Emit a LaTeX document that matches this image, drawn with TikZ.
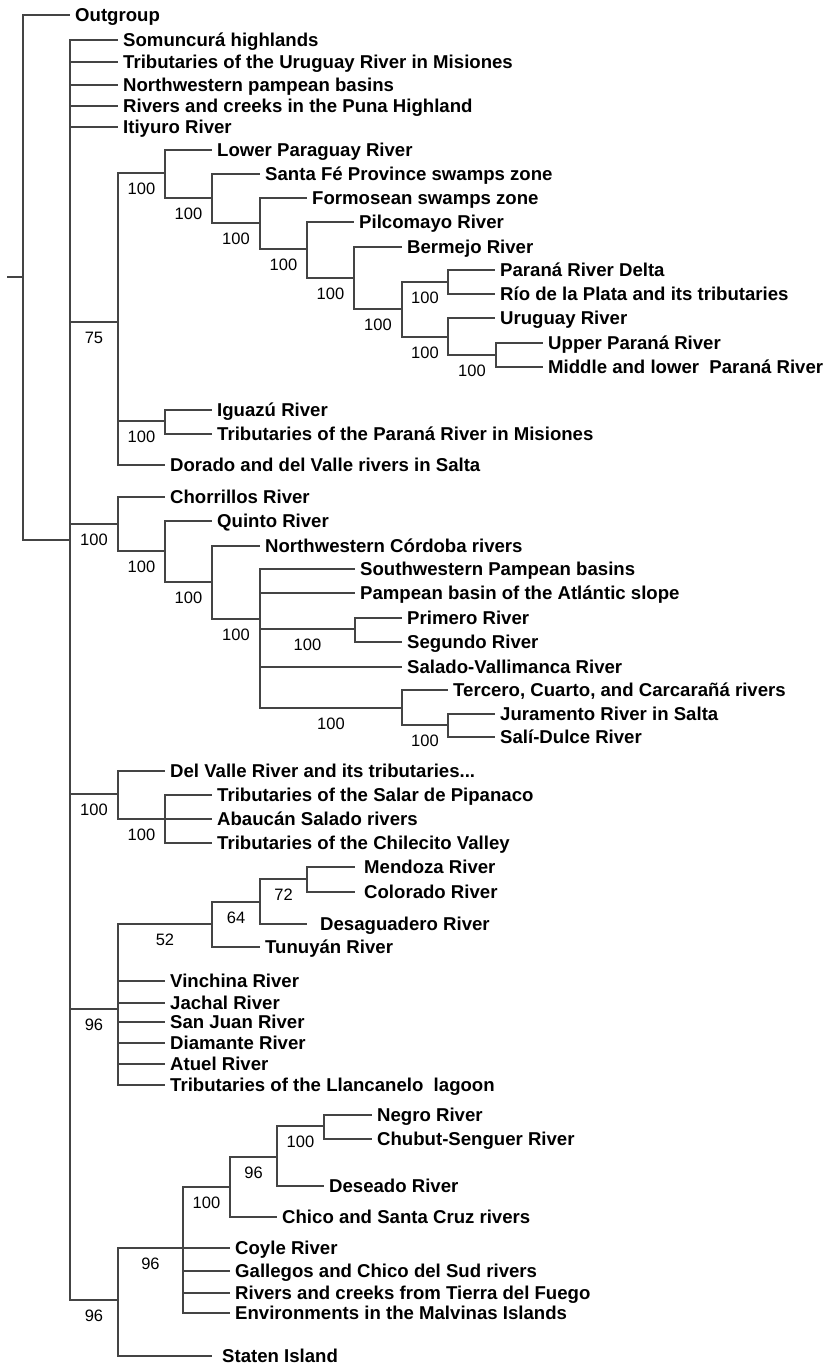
\documentclass[tikz,border=0pt]{standalone}
\usepackage{fontspec}
\setmainfont{Liberation Sans}
\usepackage{tikz}
\definecolor{branchgray}{RGB}{68,68,68}

\begin{document}
\begin{tikzpicture}[x=1pt, y=-1pt, every node/.style={inner sep=0pt},
  branch/.style={draw=branchgray, line width=1.2pt},
  taxon/.style={anchor=west, inner xsep=5pt, text height=13.3pt, text depth=0pt, font=\bfseries\fontsize{18.6}{20}\selectfont},
  bval/.style={pos=0.75, anchor=base, yshift=-21pt, text=black, font=\fontsize{16.5}{18}\selectfont}]
  \useasboundingbox (0,0) rectangle (824,1365);
  \coordinate (stub) at (7,277); \coordinate (R) at (23,277); \coordinate (In) at (70,540);
  \coordinate (c75) at (118,322); \coordinate (cLP) at (165,173); \coordinate (cSF) at (212,198);
  \coordinate (cFo) at (260,223); \coordinate (cPi) at (307,249); \coordinate (cBe) at (354,278);
  \coordinate (cPD) at (402,309); \coordinate (cDel) at (448,282); \coordinate (cUr) at (448,337);
  \coordinate (cUP) at (496,355); \coordinate (cIg) at (165,421);
  \coordinate (cCh) at (118,524); \coordinate (cQu) at (165,551); \coordinate (cNW) at (212,582);
  \coordinate (cPo) at (260,619); \coordinate (cPr) at (355,629); \coordinate (cTe) at (402,708);
  \coordinate (cJu) at (448,725);
  \coordinate (cDV) at (118,794); \coordinate (cSa) at (165,819);
  \coordinate (cCu) at (118,1009); \coordinate (c52) at (212,924); \coordinate (c64) at (260,902);
  \coordinate (c72) at (307,879);
  \coordinate (cPat) at (118,1300); \coordinate (cP96) at (183,1248); \coordinate (cP100) at (230,1187);
  \coordinate (cP96b) at (277,1157); \coordinate (cNe) at (324,1126);

  \node[taxon] (og) at (70,15) {Outgroup};
  \node[taxon] (somun) at (118,40) {Somuncurá highlands};
  \node[taxon] (urmis) at (118,62) {Tributaries of the Uruguay River in Misiones};
  \node[taxon] (nwpamp) at (118,85) {Northwestern pampean basins};
  \node[taxon] (puna) at (118,106) {Rivers and creeks in the Puna Highland};
  \node[taxon] (itiy) at (118,127) {Itiyuro River};
  \node[taxon] (lpar) at (212,150) {Lower Paraguay River};
  \node[taxon] (stafe) at (260,174) {Santa Fé Province swamps zone};
  \node[taxon] (formo) at (307,198) {Formosean swamps zone};
  \node[taxon] (pilco) at (354,222) {Pilcomayo River};
  \node[taxon] (berme) at (402,247) {Bermejo River};
  \node[taxon] (delta) at (495,270) {Paraná River Delta};
  \node[taxon] (plata) at (495,294) {Río de la Plata and its tributaries};
  \node[taxon] (urug) at (495,318) {Uruguay River};
  \node[taxon] (upar) at (543,343) {Upper Paraná River};
  \node[taxon] (mlpar) at (543,367) {Middle and lower\ \ Paraná River};
  \node[taxon] (iguaz) at (212,410) {Iguazú River};
  \node[taxon] (trpar) at (212,434) {Tributaries of the Paraná River in Misiones};
  \node[taxon] (dorado) at (165,465) {Dorado and del Valle rivers in Salta};
  \node[taxon] (chorr) at (165,497) {Chorrillos River};
  \node[taxon] (quinto) at (212,521) {Quinto River};
  \node[taxon] (nwcord) at (260,546) {Northwestern Córdoba rivers};
  \node[taxon] (swpamp) at (355,569) {Southwestern Pampean basins};
  \node[taxon] (atlsl) at (355,593) {Pampean basin of the Atlántic slope};
  \node[taxon] (prim) at (402,618) {Primero River};
  \node[taxon] (segu) at (402,642) {Segundo River};
  \node[taxon] (salado) at (402,667) {Salado-Vallimanca River};
  \node[taxon] (terc) at (448,690) {Tercero, Cuarto, and Carcarañá rivers};
  \node[taxon] (jura) at (495,714) {Juramento River in Salta};
  \node[taxon] (sali) at (495,737) {Salí-Dulce River};
  \node[taxon] (dvalle) at (165,771) {Del Valle River and its tributaries...};
  \node[taxon] (salar) at (212,795) {Tributaries of the Salar de Pipanaco};
  \node[taxon] (abauc) at (212,819) {Abaucán Salado rivers};
  \node[taxon] (chile) at (212,843) {Tributaries of the Chilecito Valley};
  \node[taxon, inner xsep=9pt] (mendo) at (355,867) {Mendoza River};
  \node[taxon, inner xsep=9pt] (colo) at (355,892) {Colorado River};
  \node[taxon, inner xsep=13pt] (desag) at (307,924) {Desaguadero River};
  \node[taxon] (tunu) at (260,947) {Tunuyán River};
  \node[taxon] (vinch) at (165,981) {Vinchina River};
  \node[taxon] (jach) at (165,1003) {Jachal River};
  \node[taxon] (sjuan) at (165,1022) {San Juan River};
  \node[taxon] (diam) at (165,1043) {Diamante River};
  \node[taxon] (atuel) at (165,1064) {Atuel River};
  \node[taxon] (llanc) at (165,1085) {Tributaries of the Llancanelo\ \ lagoon};
  \node[taxon] (negro) at (372,1115) {Negro River};
  \node[taxon] (chubut) at (372,1139) {Chubut-Senguer River};
  \node[taxon] (desea) at (324,1186) {Deseado River};
  \node[taxon] (chico) at (277,1217) {Chico and Santa Cruz rivers};
  \node[taxon] (coyle) at (230,1248) {Coyle River};
  \node[taxon] (galle) at (230,1271) {Gallegos and Chico del Sud rivers};
  \node[taxon] (tdf) at (230,1293) {Rivers and creeks from Tierra del Fuego};
  \node[taxon] (malv) at (230,1313) {Environments in the Malvinas Islands};
  \node[taxon, inner xsep=10pt] (staten) at (212,1356) {Staten Island};

  \draw[branch] (R) -- (stub);
  \draw[branch] (R) |- (og.west);
  \draw[branch] (R) |- (In);
  \draw[branch] (In) |- (somun.west);
  \draw[branch] (In) |- (urmis.west);
  \draw[branch] (In) |- (nwpamp.west);
  \draw[branch] (In) |- (puna.west);
  \draw[branch] (In) |- (itiy.west);
  \draw[branch] (In) |- (c75) node[bval] {75};
  \draw[branch] (In) |- (cCh) node[bval] {100};
  \draw[branch] (In) |- (cDV) node[bval] {100};
  \draw[branch] (In) |- (cCu) node[bval] {96};
  \draw[branch] (In) |- (cPat) node[bval] {96};

  \draw[branch] (c75) |- (cLP) node[bval] {100};
  \draw[branch] (c75) |- (cIg) node[bval] {100};
  \draw[branch] (c75) |- (dorado.west);
  \draw[branch] (cLP) |- (lpar.west);
  \draw[branch] (cLP) |- (cSF) node[bval] {100};
  \draw[branch] (cSF) |- (stafe.west);
  \draw[branch] (cSF) |- (cFo) node[bval] {100};
  \draw[branch] (cFo) |- (formo.west);
  \draw[branch] (cFo) |- (cPi) node[bval] {100};
  \draw[branch] (cPi) |- (pilco.west);
  \draw[branch] (cPi) |- (cBe) node[bval] {100};
  \draw[branch] (cBe) |- (berme.west);
  \draw[branch] (cBe) |- (cPD) node[bval] {100};
  \draw[branch] (cPD) |- (cDel) node[bval] {100};
  \draw[branch] (cPD) |- (cUr) node[bval] {100};
  \draw[branch] (cDel) |- (delta.west);
  \draw[branch] (cDel) |- (plata.west);
  \draw[branch] (cUr) |- (urug.west);
  \draw[branch] (cUr) |- (cUP) node[bval] {100};
  \draw[branch] (cUP) |- (upar.west);
  \draw[branch] (cUP) |- (mlpar.west);
  \draw[branch] (cIg) |- (iguaz.west);
  \draw[branch] (cIg) |- (trpar.west);

  \draw[branch] (cCh) |- (chorr.west);
  \draw[branch] (cCh) |- (cQu) node[bval] {100};
  \draw[branch] (cQu) |- (quinto.west);
  \draw[branch] (cQu) |- (cNW) node[bval] {100};
  \draw[branch] (cNW) |- (nwcord.west);
  \draw[branch] (cNW) |- (cPo) node[bval] {100};
  \draw[branch] (cPo) |- (swpamp.west);
  \draw[branch] (cPo) |- (atlsl.west);
  \draw[branch] (cPo) |- (cPr) node[bval] {100};
  \draw[branch] (cPo) |- (salado.west);
  \draw[branch] (cPo) |- (cTe) node[bval] {100};
  \draw[branch] (cPr) |- (prim.west);
  \draw[branch] (cPr) |- (segu.west);
  \draw[branch] (cTe) |- (terc.west);
  \draw[branch] (cTe) |- (cJu) node[bval] {100};
  \draw[branch] (cJu) |- (jura.west);
  \draw[branch] (cJu) |- (sali.west);

  \draw[branch] (cDV) |- (dvalle.west);
  \draw[branch] (cDV) |- (cSa) node[bval] {100};
  \draw[branch] (cSa) |- (salar.west);
  \draw[branch] (cSa) |- (abauc.west);
  \draw[branch] (cSa) |- (chile.west);

  \draw[branch] (cCu) |- (c52) node[bval] {52};
  \draw[branch] (cCu) |- (vinch.west);
  \draw[branch] (cCu) |- (jach.west);
  \draw[branch] (cCu) |- (sjuan.west);
  \draw[branch] (cCu) |- (diam.west);
  \draw[branch] (cCu) |- (atuel.west);
  \draw[branch] (cCu) |- (llanc.west);
  \draw[branch] (c52) |- (c64) node[bval] {64};
  \draw[branch] (c52) |- (tunu.west);
  \draw[branch] (c64) |- (c72) node[bval] {72};
  \draw[branch] (c64) |- (desag.west);
  \draw[branch] (c72) |- (mendo.west);
  \draw[branch] (c72) |- (colo.west);

  \draw[branch] (cPat) |- (cP96) node[bval] {96};
  \draw[branch] (cPat) |- (staten.west);
  \draw[branch] (cP96) |- (cP100) node[bval] {100};
  \draw[branch] (cP96) |- (coyle.west);
  \draw[branch] (cP96) |- (galle.west);
  \draw[branch] (cP96) |- (tdf.west);
  \draw[branch] (cP96) |- (malv.west);
  \draw[branch] (cP100) |- (cP96b) node[bval] {96};
  \draw[branch] (cP100) |- (chico.west);
  \draw[branch] (cP96b) |- (cNe) node[bval] {100};
  \draw[branch] (cP96b) |- (desea.west);
  \draw[branch] (cNe) |- (negro.west);
  \draw[branch] (cNe) |- (chubut.west);
\end{tikzpicture}
\end{document}
